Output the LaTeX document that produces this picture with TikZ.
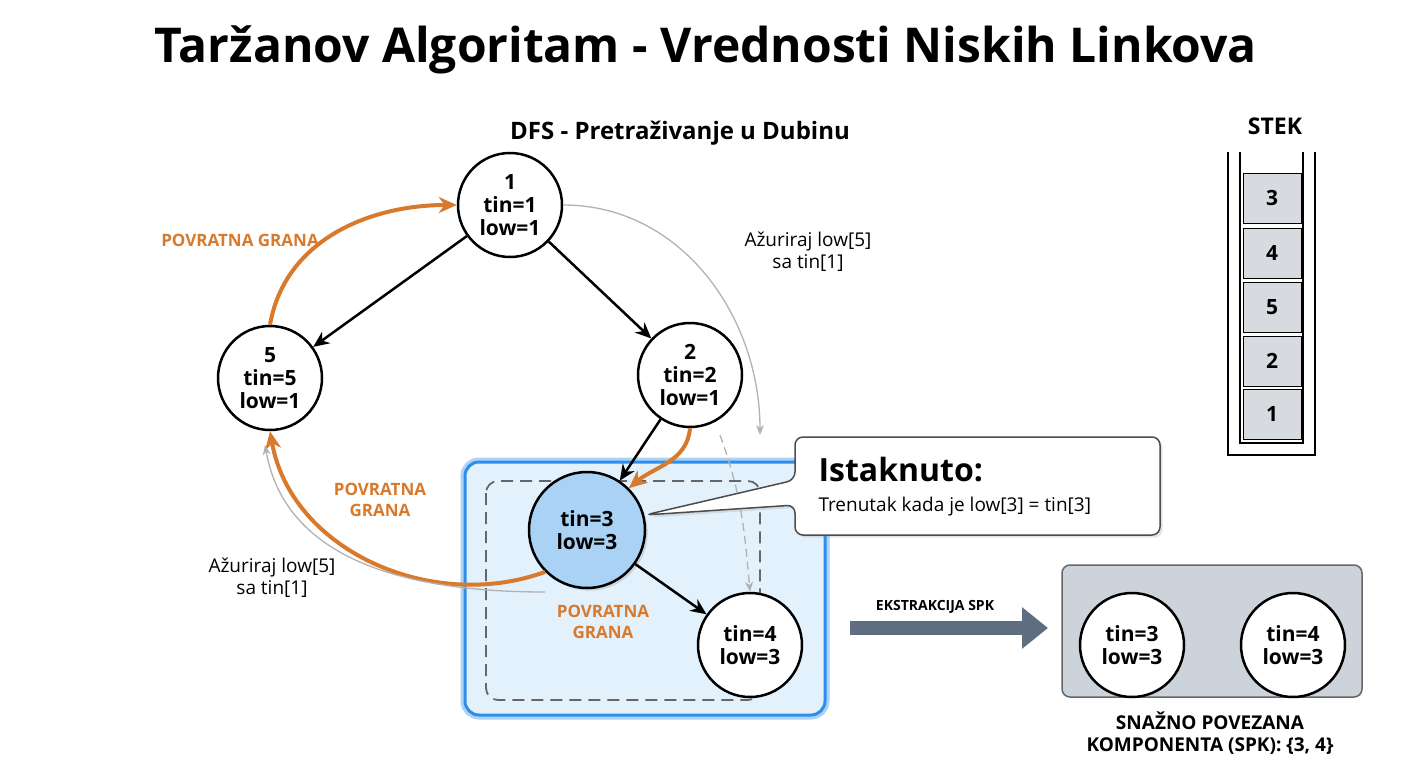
\documentclass[tikz,border=0pt]{standalone}
\usepackage{fontspec}
\setmainfont{Open Sans}
\usetikzlibrary{positioning,calc,arrows.meta,shadows}
\definecolor{orng}{HTML}{D9792B}
\definecolor{hlblue}{HTML}{2F8FE8}
\definecolor{hlfill}{HTML}{E3F1FC}
\definecolor{nodeblue}{HTML}{A9D2F5}
\definecolor{cellgray}{HTML}{D7DBE0}
\definecolor{sccgray}{HTML}{CDD3DB}
\definecolor{arrowgray}{HTML}{5E6E80}
\begin{document}
\begin{tikzpicture}[x=1pt,y=-1pt]
  \tikzstyle{vert}=[circle,draw,line width=2.5,fill=white,minimum size=104,inner sep=0,align=center,font=\bfseries\fontsize{21}{23}\selectfont]
  \tikzstyle{tree}=[-{Stealth[length=16,width=14]},line width=2.5]
  \tikzstyle{back}=[-{Stealth[length=18,width=16]},line width=4,orng]
  \tikzstyle{upd}=[-{Stealth[length=10,width=8]},line width=1.3,black!30]
  \tikzstyle{lbl}=[orng,align=center,font=\bfseries\fontsize{17}{21}\selectfont]
  \tikzstyle{note}=[align=center,font=\fontsize{19}{22}\selectfont]
  \tikzstyle{cell}=[draw,fill=cellgray,minimum width=58,minimum height=50,font=\bfseries\fontsize{21}{23}\selectfont]
  \useasboundingbox (0,0) rectangle (1408,768);
  \fill[white] (0,0) rectangle (1408,768);
  % titles
  \node[font=\bfseries\fontsize{48}{52}\selectfont] (title) at (706,50) {Taržanov Algoritam - Vrednosti Niskih Linkova};
  \node[font=\bfseries\fontsize{24}{28}\selectfont] (sub) at (680,133) {DFS - Pretraživanje u Dubinu};
  % highlight box
  \draw[hlblue!40,line width=9,rounded corners=14] (465,462) rectangle (825,715);
  \draw[hlblue,line width=3,fill=hlfill,rounded corners=14] (465,462) rectangle (825,715);
  \draw[black!60,dashed,dash pattern=on 12 off 7,line width=1.8,rounded corners=12] (486,481) rectangle (760,700);
  % vertices
  \node[vert] (v1) at (510,205) {1\\tin=1\\low=1};
  \node[vert] (v5) at (270,378) {5\\tin=5\\low=1};
  \node[vert] (v2) at (690,375) {2\\tin=2\\low=1};
  \node[vert,fill=nodeblue,minimum size=116,drop shadow={opacity=.25}] (v3) at (587,530) {tin=3\\low=3};
  \node[vert] (v4) at (750,645) {tin=4\\low=3};
  % tree edges
  \draw[tree] (v1) -- (v5);
  \draw[tree] (v1) -- (v2);
  \draw[tree] (v2) -- (v3);
  \draw[tree] (v3) -- (v4);
  % back edges
  \draw[back] (v5.north) to[out=80,in=180] (v1.west);
  \draw[back] (v2.south) to[out=-95,in=40] (v3.north east);
  \draw[back] (v3.south west) to[out=200,in=-80] (v5.south);
  \node[lbl] (b1) at (240,240) {POVRATNA GRANA};
  \node[lbl] (b2) at (380,500) {POVRATNA\\GRANA};
  \node[lbl] (b3) at (603,622) {POVRATNA\\GRANA};
  % updates
  \coordinate (u1) at (760,435);
  \draw[upd] (v1.east) to[out=0,in=90] (u1);
  \node[note] (n1) at (808,252) {Ažuriraj low[5]\\sa tin[1]};
  \coordinate (d1) at (720,435);
  \draw[upd,dashed,dash pattern=on 8 off 5] (d1) to[out=-70,in=95] (v4.north);
  \coordinate (u2) at (545,592);
  \coordinate (u3) at (265,445);
  \draw[upd] (u2) to[out=180,in=-80] (u3);
  \node[note] (n2) at (272,578) {Ažuriraj low[5]\\sa tin[1]};
  % callout
  \draw[black!70,line width=1.5,fill=white,rounded corners=8,drop shadow={opacity=.2}]
    (795,437) -- (1160,437) -- (1160,535) -- (795,535) -- (795,505) -- (645,515) -- (795,480) -- cycle;
  \node[anchor=west,font=\bfseries\fontsize{32}{36}\selectfont] (ist) at (815,470) {Istaknuto:};
  \node[anchor=west,note] (tr) at (815,507) {Trenutak kada je low[3] = tin[3]};
  % stack
  \node[font=\bfseries\fontsize{23}{26}\selectfont] (stek) at (1275,126) {STEK};
  \draw[line width=2] (1228,152) -- (1228,455) -- (1315,455) -- (1315,152);
  \draw[line width=1.5] (1240,152) -- (1240,443) -- (1303,443) -- (1303,152);
  \foreach \v/\y in {3/198,4/253,5/307,2/361,1/414}
    \node[cell] (s\v) at (1272,\y) {\v};
  % extraction
  \node[font=\bfseries\fontsize{14}{16}\selectfont] (ek) at (935,607) {EKSTRAKCIJA SPK};
  \coordinate (e1) at (850,628);
  \coordinate (e2) at (1048,628);
  \draw[arrowgray,line width=14,-{Triangle[length=26,width=40]}] (e1) -- (e2);
  % scc
  \draw[black!60,line width=1.5,fill=sccgray,rounded corners=8] (1062,565) rectangle (1362,697);
  \node[vert] (c3) at (1132,645) {tin=3\\low=3};
  \node[vert] (c4) at (1293,645) {tin=4\\low=3};
  \node[align=center,font=\bfseries\fontsize{19}{22}\selectfont] (spk) at (1210,733) {SNAŽNO POVEZANA\\KOMPONENTA (SPK): \{3, 4\}};
\end{tikzpicture}
\end{document}
